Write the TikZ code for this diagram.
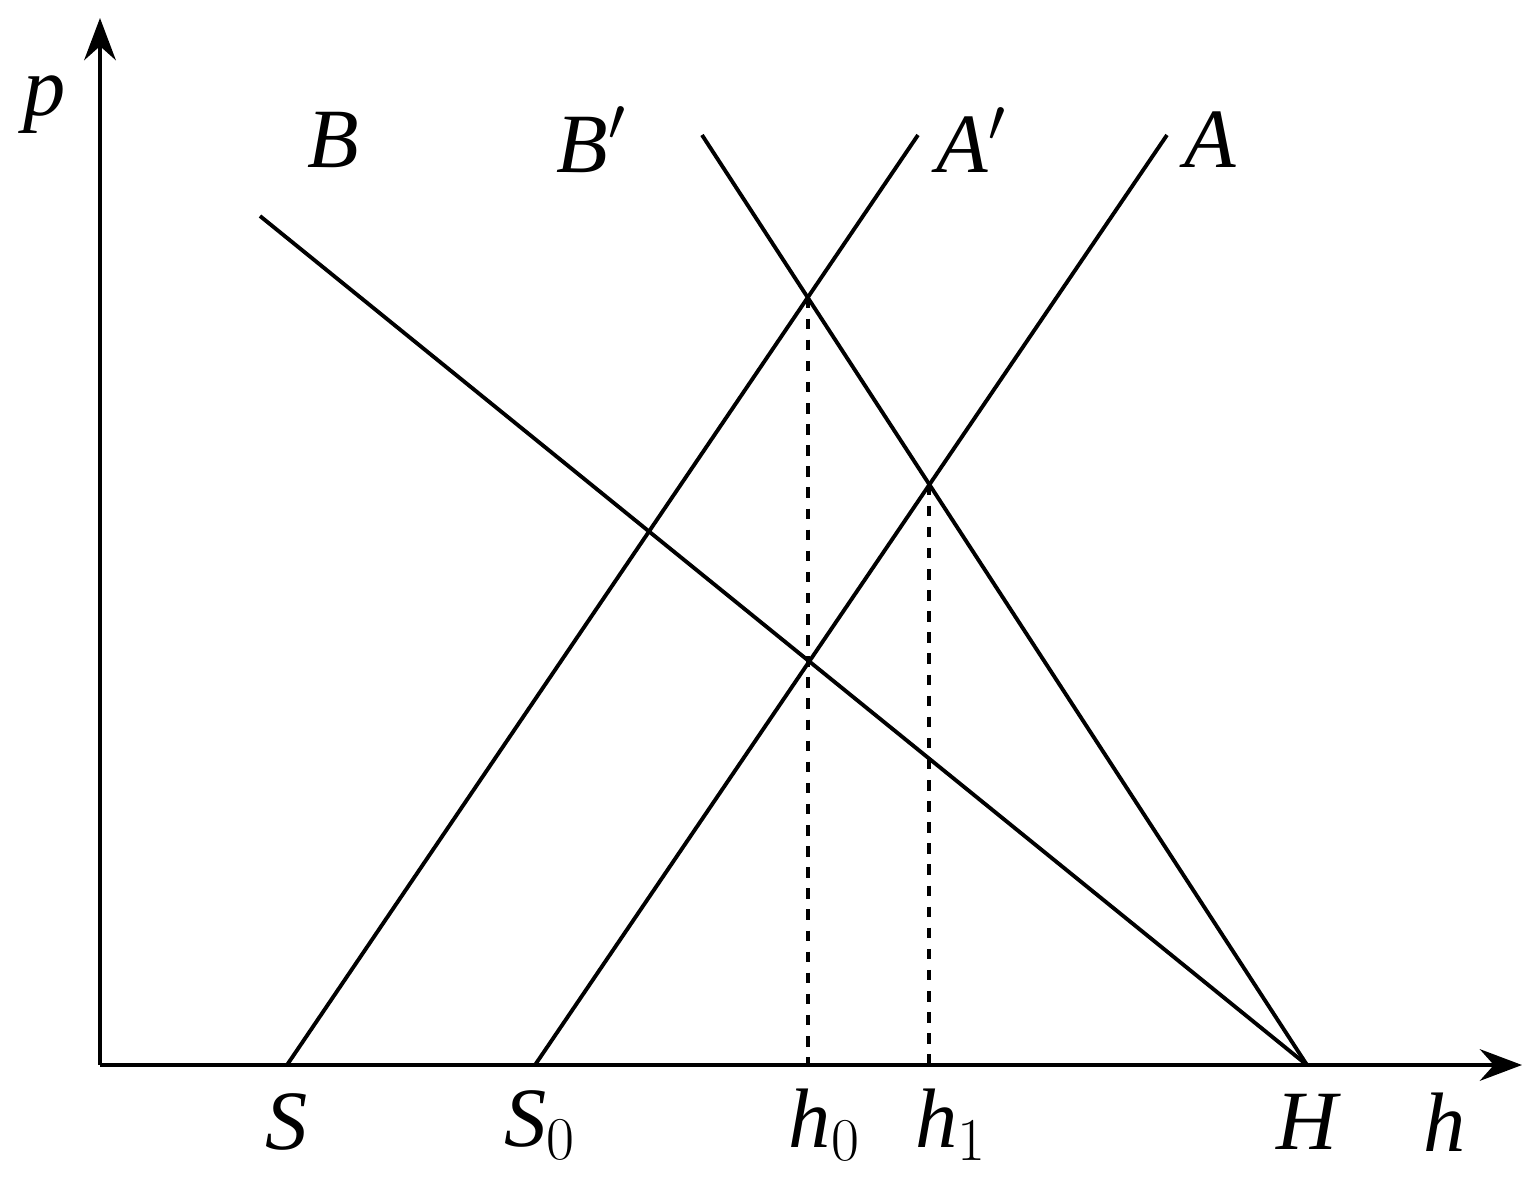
\documentclass[tikz,border=0pt]{standalone}
\usepackage{fontspec}
\setmainfont{Liberation Serif}
\usetikzlibrary{arrows.meta}
\begin{document}
\begin{tikzpicture}[x=0.01cm,y=-0.01cm,line width=1.1pt,
  lbl/.style={font=\fontsize{24}{28}\selectfont\itshape,inner sep=0pt},
  ax/.style={-{Stealth[length=12pt,width=9pt,inset=4pt]}}]
\useasboundingbox (0,0) rectangle (1538,1178);
\coordinate (O) at (100,1065);
\coordinate (Ytop) at (100,18);
\coordinate (Xend) at (1522,1065);
\coordinate (S) at (287,1065);
\coordinate (S0) at (535,1065);
\coordinate (H) at (1307,1065);
\coordinate (Ap) at (918,135);
\coordinate (A) at (1167,135);
\coordinate (B) at (260,216);
\coordinate (Bp) at (702,135);
\draw[ax] (O) -- (Ytop);
\draw[ax] (O) -- (Xend);
\draw (S) -- (Ap);
\draw (S0) -- (A);
\draw (B) -- (H);
\draw (Bp) -- (H);
\coordinate (P0) at (intersection of S--Ap and Bp--H);
\coordinate (P1) at (intersection of S0--A and Bp--H);
\draw[dashed] (P0) -- (P0 |- O);
\draw[dashed] (P1) -- (P1 |- O);
\node[lbl] (lp) at (45,105) {p};
\node[lbl] (lB) at (333,140) {B};
\node[lbl] (lBp) at (592,140) {B$'$};
\node[lbl] (lAp) at (972,140) {A$'$};
\node[lbl] (lA) at (1210,140) {A};
\node[lbl] (lS) at (287,1122) {S};
\node[lbl] (lS0) at (540,1125) {S$_0$};
\node[lbl] (lh0) at ([xshift=0.17cm]P0 |- 0,1125) {h$_0$};
\node[lbl] (lh1) at ([xshift=0.22cm]P1 |- 0,1125) {h$_1$};
\node[lbl] (lH) at (1307,1122) {H};
\node[lbl] (lh) at (1445,1122) {h};
\end{tikzpicture}
\end{document}
